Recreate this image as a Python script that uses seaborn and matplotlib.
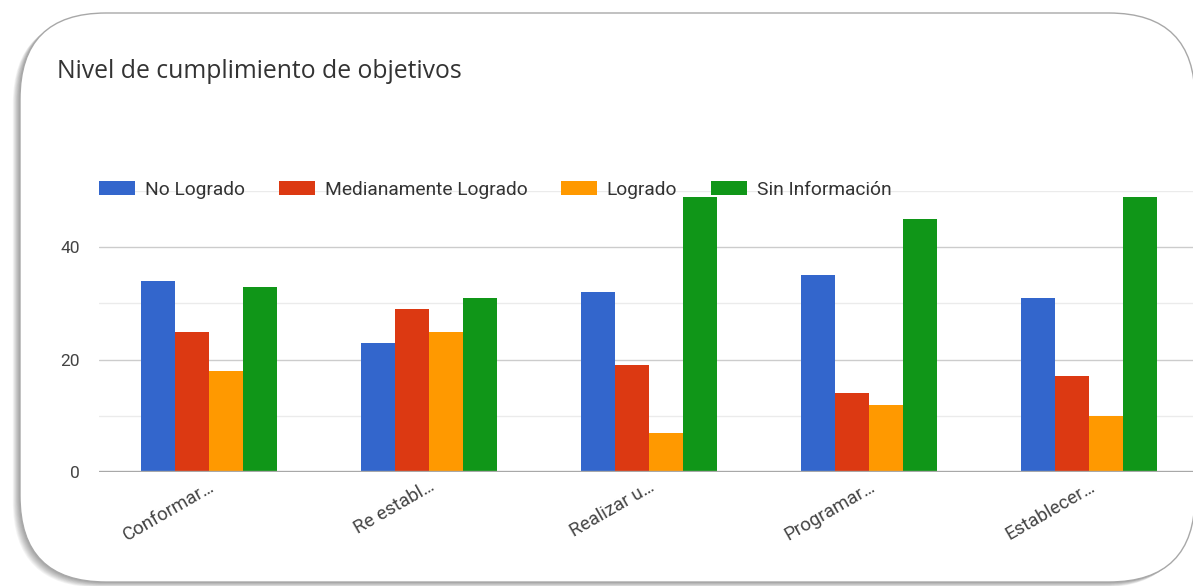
import numpy as np
import pandas as pd
import matplotlib
matplotlib.use("Agg")
import matplotlib.pyplot as plt
from matplotlib.patches import FancyBboxPatch, Patch
import seaborn as sns

# ---- data ----
categories = ["Conformar…", "Re establ…", "Realizar u…", "Programar…", "Establecer…"]
series = ["No Logrado", "Medianamente Logrado", "Logrado", "Sin Información"]
no_logrado = [34, 23, 32, 35, 31]
medianamente = [25, 29, 19, 14, 17]
logrado = [18, 25, 7, 12, 10]
sin_info = [33, 31, 49, 45, 49]
colors = ["#3366cc", "#dc3912", "#ff9900", "#109618"]
y_ticks = [0, 20, 40]

values = [no_logrado, medianamente, logrado, sin_info]
df = pd.DataFrame({
    "cat": [c for s in series for c in categories],
    "serie": [s for s in series for c in categories],
    "val": [v for vals in values for v in vals],
})

sns.set_theme(style="white")
plt.rcParams["font.family"] = ["Roboto", "DejaVu Sans"]

W, H = 1193, 586
fig = plt.figure(figsize=(W / 100, H / 100), dpi=100)
fig.patch.set_facecolor("white")

# rounded card with shadow (display/pixel coords)
bx, by, bw, bh, r = 20, 4, 1175, 569, 86
for k in range(9, 0, -1):
    sh = FancyBboxPatch((bx - k * 0.8, by - k * 0.6), bw, bh,
                        boxstyle=f"round,pad=0,rounding_size={r}",
                        transform=None, facecolor="#000000", edgecolor="none",
                        alpha=0.045, zorder=-5)
    fig.patches.append(sh)
card = FancyBboxPatch((bx, by), bw, bh, boxstyle=f"round,pad=0,rounding_size={r}",
                      transform=None, facecolor="white", edgecolor="#a8a8a8",
                      linewidth=1.0, zorder=-4)
fig.patches.append(card)

ax = fig.add_axes([99 / W, (H - 472) / H, 1100 / W, (472 - 191) / H])
ax.set_facecolor("none")

sns.barplot(data=df, x="cat", y="val", hue="serie", palette=colors,
            width=0.615, gap=0, saturation=1, ax=ax, legend=False, zorder=3,
            linewidth=0, edgecolor="none")

for g in [10, 30, 50]:
    ax.axhline(g, color="#ebebeb", lw=1.0, zorder=1)
for g in [20, 40]:
    ax.axhline(g, color="#cccccc", lw=1.0, zorder=1)
ax.axhline(0, color="#a8a8a8", lw=2.4, zorder=4)

ax.set_ylim(0, 50)
ax.set_xlim(-0.5, len(categories) - 0.5)
ax.set_yticks(y_ticks)
ax.set_yticklabels([str(t) for t in y_ticks])
for s in ax.spines.values():
    s.set_visible(False)
ax.tick_params(axis="y", length=0, pad=14, labelsize=12.5, labelcolor="#444444")
ax.tick_params(axis="x", length=0, pad=4, labelsize=13.5, labelcolor="#444444")
for lab in ax.get_xticklabels():
    lab.set_rotation(30)
    lab.set_ha("right")
    lab.set_rotation_mode("anchor")
ax.set_xlabel("")
ax.set_ylabel("")
ax.grid(False)

fig.text(57 / W, 1 - 78 / H, "Nivel de cumplimiento de objetivos",
         fontsize=17.8, color="#333333", family=["Open Sans", "DejaVu Sans"],
         ha="left", va="baseline")

handles = [Patch(facecolor=c, edgecolor="none") for c in colors]
leg = fig.legend(handles, series, loc="center left",
                 bbox_to_anchor=(99 / W, 1 - 190 / H), ncol=4, frameon=False,
                 fontsize=13.8, handlelength=1.9, handleheight=0.75,
                 handletextpad=0.5, columnspacing=1.75, borderaxespad=0,
                 borderpad=0)
for t in leg.get_texts():
    t.set_color("#333333")

fig.savefig("out.png", dpi=100, facecolor="white")
